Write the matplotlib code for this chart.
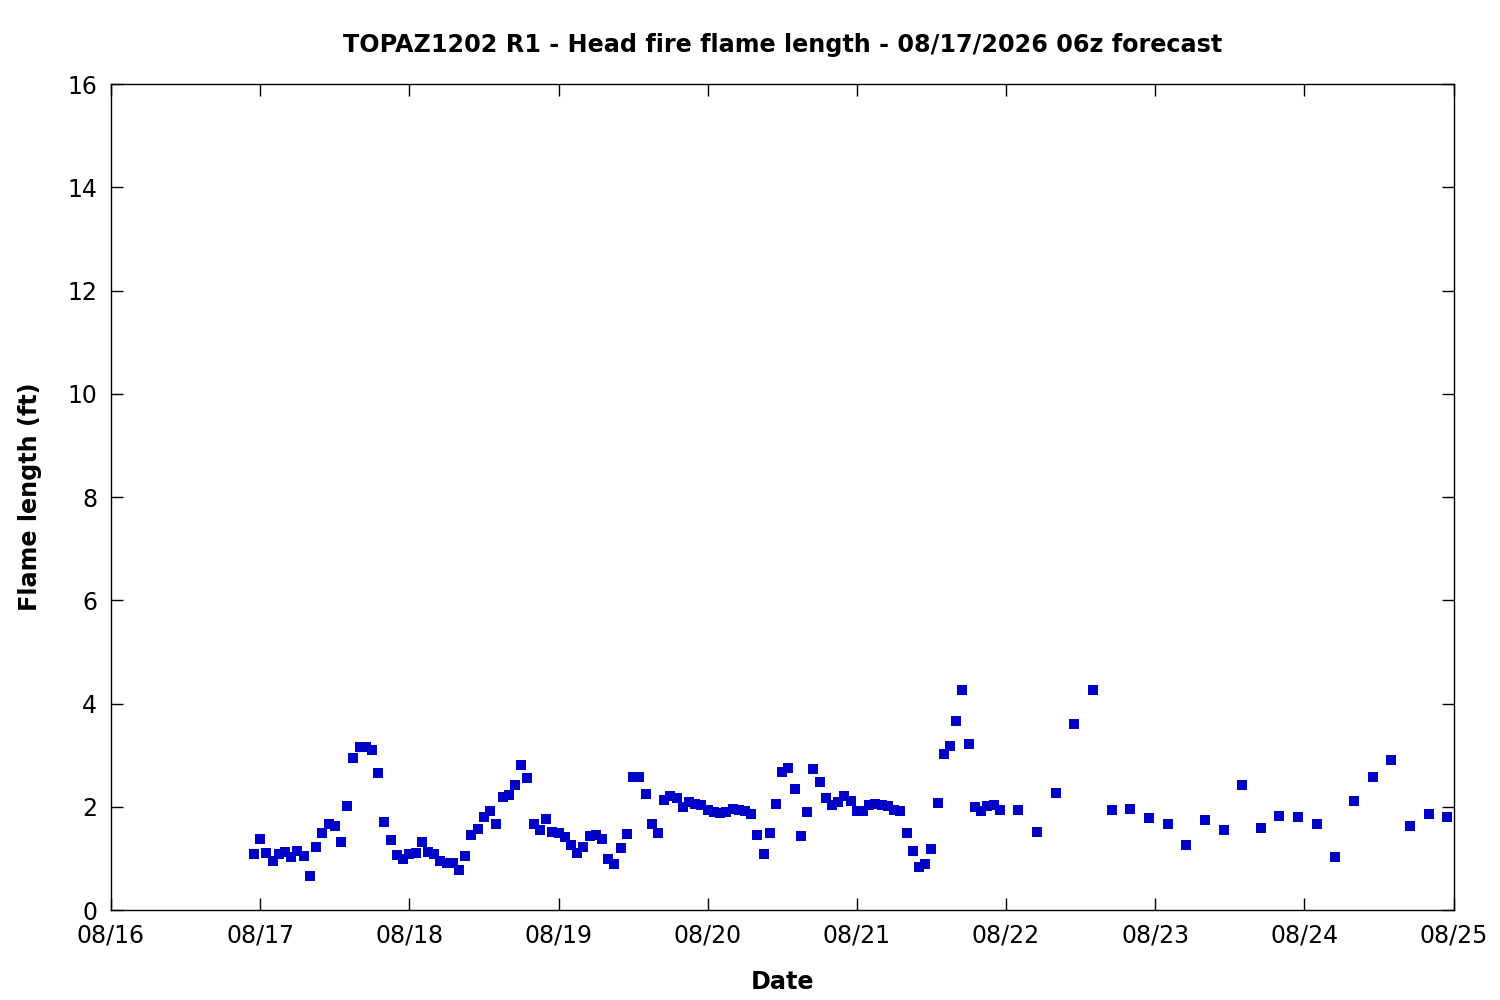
import numpy as np
import pandas as pd
import matplotlib
matplotlib.use("Agg")
import matplotlib.pyplot as plt
import matplotlib.dates as mdates

# hourly values 08/16 23z .. 08/21 23z
hourly_vals = [
    1.08, 1.37, 1.10, 0.94, 1.08, 1.12, 1.02, 1.14, 1.04, 0.65,
    1.23, 1.50, 1.67, 1.62, 1.31, 2.01, 2.94, 3.15, 3.15, 3.09,
    2.65, 1.70, 1.35, 1.06, 0.98, 1.08, 1.10, 1.31, 1.12, 1.08,
    0.94, 0.92, 0.92, 0.77, 1.04, 1.45, 1.56, 1.80, 1.91, 1.66,
    2.18, 2.22, 2.43, 2.80, 2.55, 1.66, 1.54, 1.76, 1.51, 1.49,
    1.41, 1.25, 1.10, 1.23, 1.43, 1.45, 1.37, 0.98, 0.89, 1.21,
    1.47, 2.57, 2.57, 2.24, 1.66, 1.49, 2.14, 2.20, 2.16, 1.99,
    2.09, 2.06, 2.03, 1.93, 1.89, 1.87, 1.89, 1.95, 1.93, 1.91,
    1.85, 1.45, 1.08, 1.49, 2.05, 2.67, 2.76, 2.34, 1.43, 1.89,
    2.74, 2.47, 2.16, 2.03, 2.09, 2.20, 2.11, 1.91,
    1.91, 2.03, 2.05, 2.03, 2.01, 1.93, 1.91, 1.50, 1.14, 0.83,
    0.89, 1.18, 2.07, 3.02, 3.17, 3.67, 4.26, 3.21, 1.99, 1.91,
    2.01, 2.03, 1.93,
]
# 3-hourly values 08/22 02z .. 08/24 23z
three_hourly_vals = [
    1.93, 1.52, 2.26, 3.60, 4.26, 1.93, 1.95, 1.78,
    1.66, 1.25, 1.74, 1.54, 2.42, 1.58, 1.83, 1.81,
    1.66, 1.02, 2.11, 2.57, 2.90, 1.62, 1.86, 1.80,
]

hourly_times = pd.date_range("2026-08-16 23:00", periods=len(hourly_vals), freq="h")
three_hourly_times = pd.date_range("2026-08-22 02:00", periods=len(three_hourly_vals), freq="3h")
times = hourly_times.append(three_hourly_times)
flame = np.array(hourly_vals + three_hourly_vals)

plt.rcParams['font.family'] = ['DejaVu Sans']

fig = plt.figure(figsize=(15, 10), dpi=100)
ax = fig.add_axes([0.074, 0.09, 0.895, 0.826])

ax.plot(times, flame, linestyle='none', marker='s', markersize=6.5,
        color='#0000c8', markeredgewidth=0)

ax.set_xlim(pd.Timestamp("2026-08-16"), pd.Timestamp("2026-08-25"))
ax.set_ylim(0, 16)
ax.set_yticks(np.arange(0, 17, 2))
ax.xaxis.set_major_locator(mdates.DayLocator())
ax.xaxis.set_major_formatter(mdates.DateFormatter('%m/%d'))

ax.tick_params(direction='in', length=8.5, width=1, labelsize=17,
               top=True, right=True, pad=10)
for s in ax.spines.values():
    s.set_linewidth(1)

ax.set_title('TOPAZ1202 R1 - Head fire flame length - 08/17/2026 06z forecast',
             fontsize=17.2, fontweight='bold', pad=23)
ax.set_xlabel('Date', fontsize=17.2, fontweight='bold', labelpad=16)
ax.set_ylabel('Flame length (ft)', fontsize=17.2, fontweight='bold', labelpad=18)

fig.savefig('out.png', dpi=100)
